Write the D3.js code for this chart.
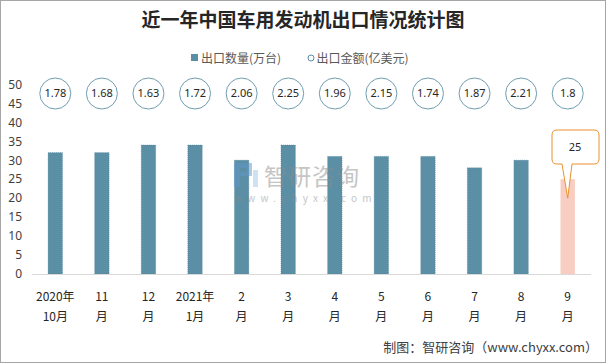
<!DOCTYPE html>
<html>
<head>
<meta charset="utf-8">
<script src="https://cdn.jsdelivr.net/npm/d3@7"></script>
<style>
  body { margin: 0; background: #fff; }
  svg text { font-family: "Noto Sans CJK SC", "Noto Sans", sans-serif; }
</style>
</head>
<body>
<svg id="chart" width="606" height="363"></svg>
<script>
// chart data
var months = ["2020年|10月", "11|月", "12|月", "2021年|1月", "2|月", "3|月", "4|月", "5|月", "6|月", "7|月", "8|月", "9|月"];
var volume = [32, 32, 34, 34, 30, 34, 31, 31, 31, 28, 30, 25];   // 出口数量(万台)
var amount = ["1.78", "1.68", "1.63", "1.72", "2.06", "2.25", "1.96", "2.15", "1.74", "1.87", "2.21", "1.8"]; // 出口金额(亿美元)
var yTicks = [0, 5, 10, 15, 20, 25, 30, 35, 40, 45, 50];

(function () {
    "use strict";

    var width = 606, height = 363;
    var svg = d3.select("#chart");

    // frame
    svg.append("rect")
        .attr("x", 0.5).attr("y", 0.5)
        .attr("width", width - 1).attr("height", height - 1)
        .attr("fill", "#fff").attr("stroke", "#a6a6a6");

    var x = d3.scaleBand()
        .domain(months)
        .range([32, 591])
        .paddingInner(0.69)
        .paddingOuter(0.345);

    var y = d3.scaleLinear()
        .domain([0, 50])
        .range([274, 84.3]);

    // title
    svg.append("text")
        .attr("x", 303).attr("y", 27)
        .attr("text-anchor", "middle")
        .attr("font-size", 19)
        .attr("font-weight", "bold")
        .attr("fill", "#262626")
        .text("近一年中国车用发动机出口情况统计图");

    // legend
    var lg = svg.append("g").attr("font-size", 12).attr("fill", "#595959");
    lg.append("rect").attr("x", 191).attr("y", 54).attr("width", 7).attr("height", 7).attr("fill", "#5b8fa6");
    lg.append("text").attr("x", 201).attr("y", 62.5).text("出口数量(万台)");
    lg.append("circle").attr("cx", 311).attr("cy", 58).attr("r", 3).attr("fill", "none").attr("stroke", "#5b8fa6");
    lg.append("text").attr("x", 316.5).attr("y", 62.5).text("出口金额(亿美元)");

    // y axis labels (no line)
    var yAxis = svg.append("g")
        .attr("transform", "translate(22,0)")
        .call(d3.axisLeft(y).tickValues(yTicks).tickSize(0).tickPadding(0));
    yAxis.select(".domain").remove();
    yAxis.selectAll("text")
        .attr("font-size", 12)
        .attr("fill", "#404040")
        .style("font-family", "\"Noto Sans\", sans-serif");

    // bars
    svg.append("g").selectAll("rect")
        .data(volume)
        .enter().append("rect")
        .attr("x", function (d, i) { return x(months[i]); })
        .attr("y", function (d) { return y(d); })
        .attr("width", x.bandwidth())
        .attr("height", function (d) { return y(0) - y(d); })
        .attr("fill", function (d, i) { return i === volume.length - 1 ? "#f8cec3" : "#5b8fa6"; })
        .attr("stroke", function (d, i) { return i === volume.length - 1 ? "none" : "#4d8199"; })
        .attr("stroke-width", 0.5)
        .attr("stroke-dasharray", "1,1");

    // watermark, drawn over the bars
    var wm = svg.append("g").attr("opacity", 0.5);
    wm.append("path")
        .attr("d", "M234,163 h18 v13 h-12 v11 h-6 z M240,168 h7 v4 h-7 z")
        .attr("fill", "#5f97c9").attr("fill-rule", "evenodd");
    wm.append("rect").attr("x", 253).attr("y", 170).attr("width", 5).attr("height", 17).attr("fill", "#9cc7e8");
    wm.append("text").attr("x", 264).attr("y", 185)
        .attr("font-size", 23).attr("fill", "#8c8c8c")
        .attr("letter-spacing", 1)
        .text("智研咨询");
    wm.append("text").attr("x", 234).attr("y", 202)
        .attr("font-size", 10).attr("fill", "#8c8c8c")
        .attr("letter-spacing", 5.2)
        .text("www.chyxx.com");

    // x axis line
    svg.append("line")
        .attr("x1", 32).attr("x2", 591)
        .attr("y1", 274.5).attr("y2", 274.5)
        .attr("stroke", "#d9d9d9");

    // x labels, two lines
    var xl = svg.append("g").attr("font-size", 12).attr("fill", "#262626");
    months.forEach(function (m) {
        var parts = m.split("|");
        var cx = x(m) + x.bandwidth() / 2;
        var t = xl.append("text").attr("text-anchor", "middle");
        t.append("tspan").attr("x", cx).attr("y", 301).text(parts[0]);
        t.append("tspan").attr("x", cx).attr("y", 321).text(parts[1]);
    });

    // amount bubbles
    var bub = svg.append("g").selectAll("g")
        .data(amount)
        .enter().append("g")
        .attr("transform", function (d, i) {
            return "translate(" + (x(months[i]) + x.bandwidth() / 2) + ",93.5)";
        });
    bub.append("circle")
        .attr("r", 15.5)
        .attr("fill", "#fff")
        .attr("stroke", "#6f9db0")
        .attr("stroke-width", 1);
    bub.append("text")
        .attr("text-anchor", "middle")
        .attr("dy", "0.36em")
        .attr("font-size", 11)
        .attr("fill", "#262626")
        .style("font-family", "\"Noto Sans\", sans-serif")
        .text(function (d) { return d; });

    // callout on the last bar
    var last = volume.length - 1;
    var lx = x(months[last]) + x.bandwidth() / 2;
    var tipY = y(volume[last]) + 19;
    var co = svg.append("g");
    co.append("path")
        .attr("d", "M557,130 h37 q5,0 5,5 v24 q0,5 -5,5 h-22 L" + lx + "," + tipY +
            " L562,164 h-5 q-5,0 -5,-5 v-24 q0,-5 5,-5 z")
        .attr("fill", "#fff")
        .attr("stroke", "#e8922f")
        .attr("stroke-width", 1);
    co.append("text")
        .attr("x", 575).attr("y", 147)
        .attr("text-anchor", "middle")
        .attr("dy", "0.36em")
        .attr("font-size", 11)
        .attr("fill", "#262626")
        .style("font-family", "\"Noto Sans\", sans-serif")
        .text(volume[last]);

    // source
    svg.append("text")
        .attr("x", 598).attr("y", 352)
        .attr("text-anchor", "end")
        .attr("font-size", 13)
        .attr("fill", "#404040")
        .text("制图：智研咨询（www.chyxx.com）");
}());
</script>
</body>
</html>
